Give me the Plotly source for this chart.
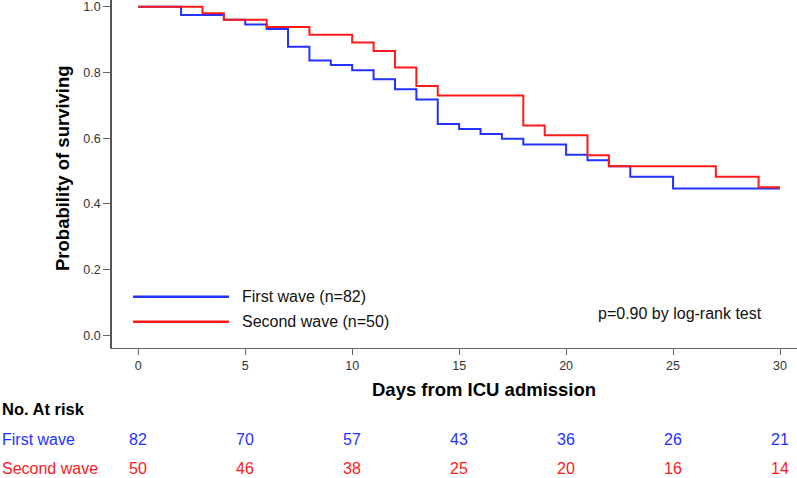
import plotly.graph_objects as go

# ---- data ----
days_first = [0, 2, 4, 5, 6, 7, 8, 9, 10, 11, 12, 13, 14, 15, 16, 17, 18, 20, 21, 22, 23, 25, 30]
surv_first = [1.0, 0.975, 0.960, 0.946, 0.932, 0.878, 0.836, 0.823, 0.807, 0.779, 0.749, 0.718,
              0.643, 0.628, 0.613, 0.598, 0.581, 0.550, 0.533, 0.515, 0.483, 0.447, 0.447]

days_second = [0, 3, 4, 6, 8, 10, 11, 12, 13, 14, 18, 19, 21, 22, 27, 29, 30]
surv_second = [1.0, 0.980, 0.960, 0.938, 0.915, 0.891, 0.865, 0.815, 0.759, 0.730,
               0.639, 0.609, 0.548, 0.515, 0.483, 0.451, 0.451]

risk_days = [0, 5, 10, 15, 20, 25, 30]
risk_first = [82, 70, 57, 43, 36, 26, 21]
risk_second = [50, 46, 38, 25, 20, 16, 14]

series_names = ["First wave (n=82)", "Second wave (n=50)"]
row_labels = ["First wave", "Second wave"]
x_ticks = [0, 5, 10, 15, 20, 25, 30]
y_ticks = [0.0, 0.2, 0.4, 0.6, 0.8, 1.0]
y_ticktext = ["0.0", "0.2", "0.4", "0.6", "0.8", "1.0"]

BLUE = "rgb(35,50,255)"
RED = "rgb(255,25,25)"
FONT = "Liberation Sans, Arial, Helvetica, sans-serif"

W, H = 797, 478
L, R, T, B = 112, 0, 0, 130
plot_w = W - L - R
plot_h = H - T - B

# pixel mapping for layout decorations
px_per_day = 21.39
x0_px = 138.3
xr = [(L - x0_px) / px_per_day, (W - R - x0_px) / px_per_day]
y0_px, px_per_unit = 335.45, 328.75
yr = [(y0_px - (H - B)) / px_per_unit, (y0_px - T) / px_per_unit]


def px_to_day(px):
    return (px - x0_px) / px_per_day


def px_to_val(py):
    return (y0_px - py) / px_per_unit


def py_to_paper(py):
    return (H - B - py) / plot_h


def px_to_paper(px):
    return (px - L) / plot_w


fig = go.Figure()
fig.add_trace(go.Scatter(x=days_first, y=surv_first, mode="lines",
                         line=dict(color=BLUE, width=2, shape="hv"),
                         name=series_names[0], showlegend=False))
fig.add_trace(go.Scatter(x=days_second, y=surv_second, mode="lines",
                         line=dict(color=RED, width=2, shape="hv"),
                         name=series_names[1], showlegend=False))

shapes = []
annotations = []

# manual legend
for i, (name, col) in enumerate(zip(series_names, [BLUE, RED])):
    ypx = 296.7 + 25 * i
    shapes.append(dict(type="line", xref="x", yref="y",
                       x0=px_to_day(133), x1=px_to_day(229),
                       y0=px_to_val(ypx), y1=px_to_val(ypx),
                       line=dict(color=col, width=2.5)))
    annotations.append(dict(xref="x", yref="y", x=px_to_day(240), y=px_to_val(ypx),
                            text=name, showarrow=False, xanchor="left", yanchor="middle",
                            font=dict(size=16, color="#111", family=FONT)))

# p-value
annotations.append(dict(xref="x", yref="y", x=px_to_day(680), y=px_to_val(313.5),
                        text="p=0.90 by log-rank test", showarrow=False,
                        xanchor="center", yanchor="middle",
                        font=dict(size=16, color="#111", family=FONT)))

# axis titles
annotations.append(dict(xref="paper", yref="paper", x=px_to_paper(62), y=py_to_paper(168),
                        text="<b>Probability of surviving</b>", showarrow=False, textangle=-90,
                        xanchor="center", yanchor="middle",
                        font=dict(size=18.5, color="#000", family=FONT)))
annotations.append(dict(xref="paper", yref="paper", x=px_to_paper(483.5), y=py_to_paper(390),
                        text="<b>Days from ICU admission</b>", showarrow=False,
                        xanchor="center", yanchor="middle",
                        font=dict(size=18.5, color="#000", family=FONT)))

# risk table
annotations.append(dict(xref="paper", yref="paper", x=px_to_paper(0), y=py_to_paper(409),
                        text="<b>No. At risk</b>", showarrow=False,
                        xanchor="left", yanchor="middle",
                        font=dict(size=16.5, color="#000", family=FONT)))
for label, counts, col, ypx in [(row_labels[0], risk_first, BLUE, 439),
                                (row_labels[1], risk_second, RED, 468)]:
    annotations.append(dict(xref="paper", yref="paper", x=px_to_paper(0), y=py_to_paper(ypx),
                            text=label, showarrow=False, xanchor="left", yanchor="middle",
                            font=dict(size=16, color=col, family=FONT)))
    for d, c in zip(risk_days, counts):
        annotations.append(dict(xref="x", yref="paper", x=d, y=py_to_paper(ypx),
                                text=str(c), showarrow=False, xanchor="center", yanchor="middle",
                                font=dict(size=16, color=col, family=FONT)))

fig.update_layout(
    width=W, height=H,
    margin=dict(l=L, r=R, t=T, b=B, pad=0),
    paper_bgcolor="white", plot_bgcolor="white",
    showlegend=False,
    shapes=shapes, annotations=annotations,
    font=dict(family=FONT),
    xaxis=dict(range=xr, tickmode="array", tickvals=x_ticks,
               ticks="outside", ticklen=6, tickwidth=1, tickcolor="#666",
               showline=True, linecolor="#666", linewidth=1.3,
               showgrid=False, zeroline=False,
               tickfont=dict(size=12.5, color="#333", family=FONT)),
    yaxis=dict(range=yr, tickmode="array", tickvals=y_ticks, ticktext=y_ticktext,
               ticks="outside", ticklen=7, tickwidth=1, tickcolor="#666",
               showline=True, linecolor="#555", linewidth=1.5,
               showgrid=False, zeroline=False,
               tickfont=dict(size=12.5, color="#333", family=FONT)),
)

fig.write_html("out.html",
               config={"displayModeBar": False},
               post_script="document.body.style.margin='0px';document.body.style.padding='0px';document.body.style.overflow='hidden';")
